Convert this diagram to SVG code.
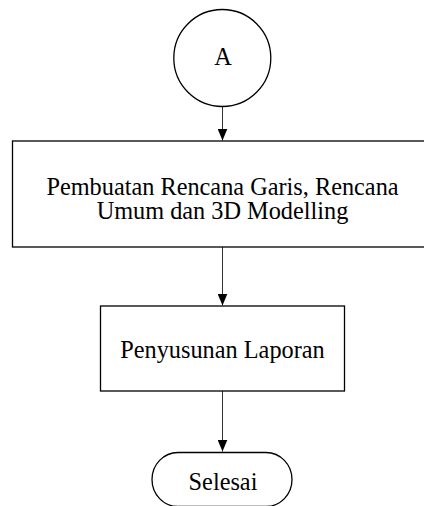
<svg xmlns="http://www.w3.org/2000/svg" width="424" height="506" viewBox="0 0 424 506">
<style>
.shape{fill:#fff;stroke:#000;stroke-width:1.3}
.lbl{font-family:"Liberation Serif","Times New Roman",serif;font-size:24.3px;fill:#000;text-anchor:middle}
.conn{stroke:#333;stroke-width:1;fill:none}
</style>
<defs>
<marker id="arr" markerWidth="12" markerHeight="10" refX="12" refY="5" orient="auto" markerUnits="userSpaceOnUse" viewBox="0 0 12 10">
<path d="M0,0 L12,5 L0,10 Z" fill="#000"/>
</marker>
</defs>
<rect width="424" height="506" fill="#fff"/>
<g id="connectors">
<path class="conn" d="M222.5,107 V140.5" marker-end="url(#arr)"/>
<path class="conn" d="M222.5,247 V305.5" marker-end="url(#arr)"/>
<path class="conn" d="M222.5,391 V451.5" marker-end="url(#arr)"/>
</g>
<g id="node-a">
<circle class="shape" cx="222.3" cy="58" r="48.5"/>
<text class="lbl" x="223" y="65">A</text>
</g>
<g id="node-pembuatan">
<rect class="shape" x="12.5" y="141" width="420" height="106"/>
<text class="lbl" x="222.5" y="194.5">Pembuatan Rencana Garis, Rencana</text>
<text class="lbl" x="222.5" y="219">Umum dan 3D Modelling</text>
</g>
<g id="node-penyusunan">
<rect class="shape" x="100.5" y="306" width="244" height="85"/>
<text class="lbl" x="222.5" y="358">Penyusunan Laporan</text>
</g>
<g id="node-selesai">
<rect class="shape" x="152" y="452.5" width="140" height="54" rx="26" ry="27"/>
<text class="lbl" x="223" y="490">Selesai</text>
</g>
</svg>
